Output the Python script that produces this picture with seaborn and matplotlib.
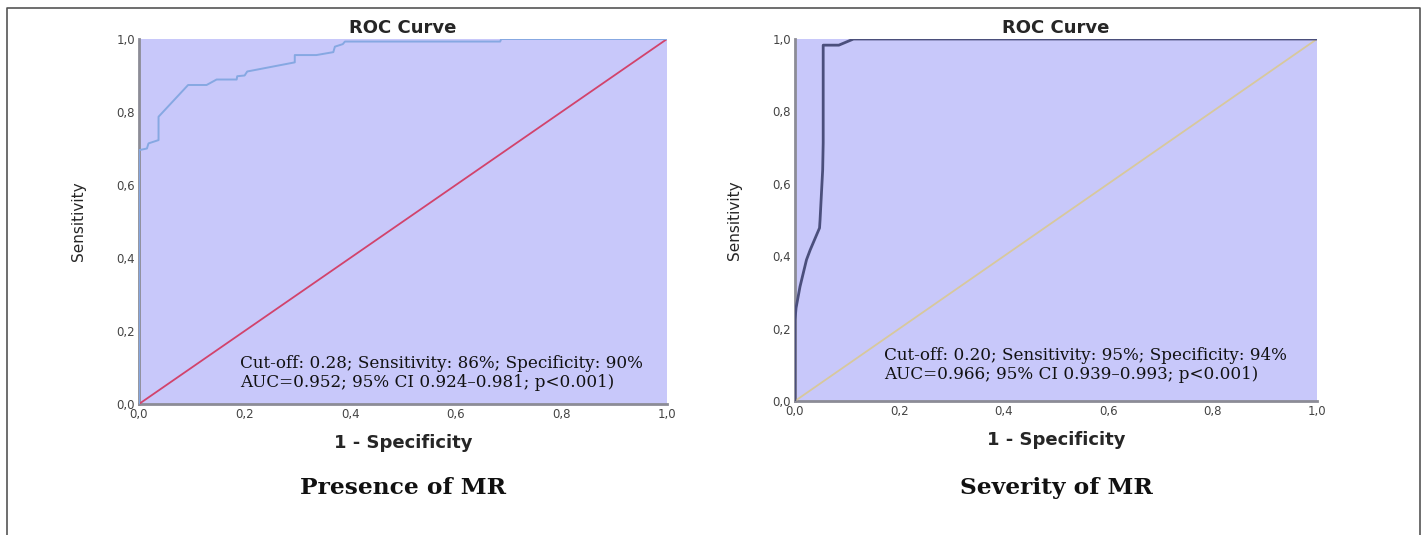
import numpy as np
import pandas as pd
import matplotlib
matplotlib.use('Agg')
import matplotlib.pyplot as plt
import seaborn as sns
from matplotlib.lines import Line2D

# ROC curve points (1 - specificity, sensitivity)
presence_fpr = [0, 0, 0.002, 0.015, 0.018, 0.037, 0.037, 0.093, 0.128, 0.147, 0.185, 0.186,
                0.2, 0.205, 0.295, 0.295, 0.336, 0.368, 0.371, 0.386, 0.39, 0.684, 0.686, 1.0]
presence_tpr = [0, 0.696, 0.696, 0.70, 0.714, 0.723, 0.787, 0.874, 0.874, 0.889, 0.889, 0.898,
                0.90, 0.911, 0.936, 0.956, 0.956, 0.964, 0.979, 0.986, 0.993, 0.993, 1.0, 1.0]

severity_fpr = [0, 0, 0.002, 0.0096, 0.022, 0.029, 0.047, 0.048, 0.053, 0.054, 0.054, 0.084, 0.112, 1.0]
severity_tpr = [0, 0.224, 0.257, 0.316, 0.39, 0.417, 0.478, 0.5, 0.638, 0.713, 0.983, 0.983, 1.0, 1.0]

reference_line = [0, 1]

ticks = [0, 0.2, 0.4, 0.6, 0.8, 1.0]
tick_labels = ['0,0', '0,2', '0,4', '0,6', '0,8', '1,0']

panels = [
    {'fpr': presence_fpr, 'tpr': presence_tpr, 'curve': '#86a8e2', 'lw': 1.4, 'diag': '#d2436c',
     'note': 'Cut-off: 0.28; Sensitivity: 86%; Specificity: 90%\nAUC=0.952; 95% CI 0.924\u20130.981; p<0.001)',
     'note_xy': (0.192, 0.134), 'caption': 'Presence of MR',
     'rect': [139 / 1428, 1 - 404 / 535, 528 / 1428, 365 / 535]},
    {'fpr': severity_fpr, 'tpr': severity_tpr, 'curve': '#4b4f7c', 'lw': 2.0, 'diag': '#d8c89c',
     'note': 'Cut-off: 0.20; Sensitivity: 95%; Specificity: 94%\nAUC=0.966; 95% CI 0.939\u20130.993; p<0.001)',
     'note_xy': (0.171, 0.149), 'caption': 'Severity of MR',
     'rect': [795 / 1428, 1 - 401 / 535, 522 / 1428, 362 / 535]},
]

serif = ['DejaVu Serif', 'Liberation Serif']

sns.set_style('white')
plt.rcParams['font.family'] = ['DejaVu Sans', 'Liberation Sans']

fig = plt.figure(figsize=(14.28, 5.35), dpi=100)

for p in panels:
    ax = fig.add_axes(p['rect'])
    ax.set_facecolor('#c8c8fa')
    curve = pd.DataFrame({'fpr': p['fpr'], 'tpr': p['tpr']})
    sns.lineplot(data=curve, x='fpr', y='tpr', sort=False, estimator=None,
                 color=p['curve'], linewidth=p['lw'], ax=ax, zorder=4)
    sns.lineplot(x=reference_line, y=reference_line, color=p['diag'], linewidth=1.3,
                 ax=ax, zorder=3)
    ax.set_xlim(0, 1)
    ax.set_ylim(0, 1)
    ax.set_xticks(ticks)
    ax.set_xticklabels(tick_labels)
    ax.set_yticks(ticks)
    ax.set_yticklabels(tick_labels)
    ax.tick_params(length=0, labelsize=8.5, colors='#444444', pad=3)
    for side in ['top', 'right']:
        ax.spines[side].set_visible(False)
    for side in ['left', 'bottom']:
        ax.spines[side].set_color('#8c8c96')
        ax.spines[side].set_linewidth(2)
    ax.set_title('ROC Curve', fontsize=13, fontweight='bold', pad=4)
    ax.set_xlabel('1 - Specificity', fontsize=13, fontweight='bold', labelpad=9)
    ax.set_ylabel('Sensitivity', fontsize=11, labelpad=22)
    ax.text(p['note_xy'][0], p['note_xy'][1], p['note'], transform=ax.transAxes,
            family=serif, fontsize=12.1, color='#111111',
            va='top', ha='left', linespacing=1.15)
    cx = p['rect'][0] + p['rect'][2] / 2
    fig.text(cx, 1 - 488 / 535, p['caption'], ha='center', va='center',
             family=serif, fontsize=16.8, fontweight='bold', color='#111111')

# outer frame of the figure panel
frame_x = [7 / 1428, 7 / 1428, 1420 / 1428, 1420 / 1428]
frame_y = [0, 1 - 8 / 535, 1 - 8 / 535, 0]
fig.add_artist(Line2D(frame_x, frame_y, transform=fig.transFigure, color='#555555', linewidth=1.2))

fig.savefig('out.png', dpi=100)
